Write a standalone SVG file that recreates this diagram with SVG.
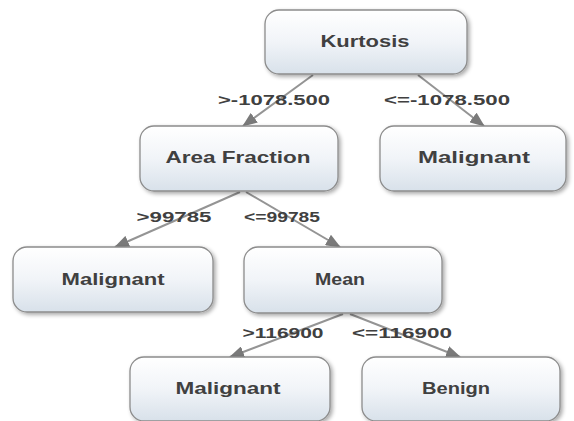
<svg xmlns="http://www.w3.org/2000/svg" width="574" height="421" viewBox="0 0 574 421">
<defs>
<linearGradient id="g" x1="0" y1="0" x2="0" y2="1">
<stop offset="0" stop-color="#ffffff"/>
<stop offset="0.5" stop-color="#f1f4f8"/>
<stop offset="1" stop-color="#d8e1ea"/>
</linearGradient>
<filter id="sh" x="-10%" y="-10%" width="125%" height="130%">
<feGaussianBlur in="SourceAlpha" stdDeviation="2"/>
<feOffset dx="2" dy="2" result="b"/>
<feComponentTransfer><feFuncA type="linear" slope="0.35"/></feComponentTransfer>
<feMerge><feMergeNode/><feMergeNode in="SourceGraphic"/></feMerge>
</filter>
<marker id="ah" viewBox="0 0 15 12" refX="14" refY="6" markerWidth="15" markerHeight="12" markerUnits="userSpaceOnUse" orient="auto">
<path d="M0,0 L15,6 L0,12 z" fill="#7a7a7a"/>
</marker>
</defs>
<style>
.n rect{fill:url(#g);stroke:#8c8c8c;stroke-width:1.3;filter:url(#sh)}
.n text{font-family:"Liberation Sans",Arial,sans-serif;font-size:17px;font-weight:bold;fill:#404040;text-anchor:middle}
.e line{stroke:#949494;stroke-width:2;marker-end:url(#ah)}
.e text{font-family:"Liberation Sans",Arial,sans-serif;font-size:15px;font-weight:bold;fill:#404040;text-anchor:middle}
</style>
<rect width="574" height="421" fill="#ffffff"/>
<g id="connectors" class="e">
<line x1="313" y1="75" x2="243" y2="126"/>
<line x1="418" y1="75" x2="484" y2="126"/>
<line x1="240" y1="192" x2="115" y2="247"/>
<line x1="246" y1="192" x2="340" y2="247"/>
<line x1="343" y1="314" x2="230" y2="357"/>
<line x1="350" y1="314" x2="460" y2="357"/>
<text x="274" y="105" textLength="112" lengthAdjust="spacingAndGlyphs">&gt;-1078.500</text>
<text x="447" y="105" textLength="126" lengthAdjust="spacingAndGlyphs">&lt;=-1078.500</text>
<text x="174" y="222" textLength="75" lengthAdjust="spacingAndGlyphs">&gt;99785</text>
<text x="282" y="222" textLength="76" lengthAdjust="spacingAndGlyphs">&lt;=99785</text>
<text x="283" y="338" textLength="81" lengthAdjust="spacingAndGlyphs">&gt;116900</text>
<text x="402" y="338" textLength="100" lengthAdjust="spacingAndGlyphs">&lt;=116900</text>
</g>
<g id="kurtosis" class="n">
<rect x="265" y="10" width="202" height="64" rx="14"/>
<text x="365" y="47" textLength="89" lengthAdjust="spacingAndGlyphs">Kurtosis</text>
</g>
<g id="area-fraction" class="n">
<rect x="140" y="126" width="198" height="65" rx="14"/>
<text x="238" y="163" textLength="145" lengthAdjust="spacingAndGlyphs">Area Fraction</text>
</g>
<g id="malignant-1" class="n">
<rect x="380" y="126" width="186" height="65" rx="14"/>
<text x="474" y="163" textLength="112" lengthAdjust="spacingAndGlyphs">Malignant</text>
</g>
<g id="malignant-2" class="n">
<rect x="13" y="247" width="200" height="65" rx="14"/>
<text x="113" y="285" textLength="103" lengthAdjust="spacingAndGlyphs">Malignant</text>
</g>
<g id="mean" class="n">
<rect x="244" y="247" width="198" height="66" rx="14"/>
<text x="340" y="285" textLength="50" lengthAdjust="spacingAndGlyphs">Mean</text>
</g>
<g id="malignant-3" class="n">
<rect x="130" y="357" width="200" height="64" rx="14"/>
<text x="228" y="394" textLength="105" lengthAdjust="spacingAndGlyphs">Malignant</text>
</g>
<g id="benign" class="n">
<rect x="362" y="357" width="198" height="64" rx="14"/>
<text x="456" y="394" textLength="68" lengthAdjust="spacingAndGlyphs">Benign</text>
</g>
</svg>
